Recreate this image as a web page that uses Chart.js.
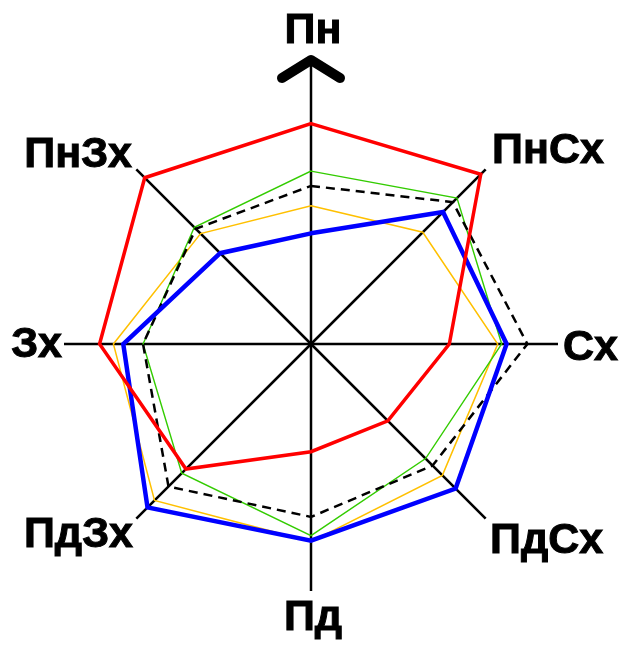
<!DOCTYPE html>
<html>
<head>
<meta charset="utf-8">
<script src="https://cdn.jsdelivr.net/npm/chart.js@4/dist/chart.umd.min.js"></script>
<style>
    html, body { margin: 0; padding: 0; background: #fff; }
    #wrap { width: 627px; height: 660px; position: relative; }
</style>
</head>
<body>
<div id="wrap"><canvas id="rose"></canvas></div>
<script>
// напрямки румбів
const directions = ["Пн", "ПнСх", "Сх", "ПдСх", "Пд", "ПдЗх", "Зх", "ПнЗх"];

// повторюваність вітрів по напрямках
const seriesRed = [22.3, 24.3, 14.0, 11.0, 10.9, 17.9, 21.4, 23.8];
const seriesBlue = [11.2, 18.9, 19.8, 20.7, 19.9, 23.4, 19.0, 13.0];
const seriesDashed = [16.0, 20.3, 21.9, 17.4, 17.5, 20.4, 17.0, 16.5];
const seriesGreen = [17.5, 20.9, 19.3, 16.4, 19.4, 18.5, 17.0, 16.7];
const seriesOrange = [14.0, 16.0, 18.9, 18.8, 20.0, 22.4, 20.0, 15.8];

const scaleMax = 25;

// where each direction label sits, relative to the centre
const labelSpots = [
    { dx: 2, dy: -301, align: "center" },
    { dx: 181, dy: -181, align: "left" },
    { dx: 252, dy: 16, align: "left" },
    { dx: 179, dy: 209, align: "left" },
    { dx: 2, dy: 286, align: "center" },
    { dx: -178, dy: 203, align: "right" },
    { dx: -249, dy: 13, align: "right" },
    { dx: -179, dy: -177, align: "right" },
];

const roseDecor = {
    id: "roseDecor",
    afterDraw(chart) {
        const scale = chart.scales.r;
        const ctx = chart.ctx;
        const cx = scale.xCenter;
        const cy = scale.yCenter;
        ctx.save();
        // north axis goes up to the arrow
        ctx.strokeStyle = "#000";
        ctx.lineWidth = 2.5;
        ctx.beginPath();
        ctx.moveTo(cx, cy - scale.drawingArea);
        ctx.lineTo(cx, cy - 284);
        ctx.stroke();
        ctx.lineWidth = 10;
        ctx.lineCap = "round";
        ctx.lineJoin = "round";
        ctx.beginPath();
        ctx.moveTo(cx - 29, cy - 266);
        ctx.lineTo(cx, cy - 284);
        ctx.lineTo(cx + 29, cy - 266);
        ctx.stroke();

        ctx.fillStyle = "#000";
        ctx.font = "bold 43px 'Liberation Sans', Arial, sans-serif";
        ctx.textBaseline = "alphabetic";
        ctx.lineWidth = 1;
        ctx.lineJoin = "miter";
        directions.forEach(function (name, i) {
            const spot = labelSpots[i];
            ctx.textAlign = spot.align;
            ctx.fillText(name, cx + spot.dx, cy + spot.dy);
            ctx.strokeText(name, cx + spot.dx, cy + spot.dy);
        });
        ctx.restore();
    }
};

const ctx = document.getElementById("rose").getContext("2d");
new Chart(ctx, {
    type: "radar",
    data: {
        labels: directions,
        datasets: [
            { data: seriesRed, borderColor: "#ff0000", borderWidth: 3.5 },
            { data: seriesBlue, borderColor: "#0000ff", borderWidth: 4.5 },
            { data: seriesDashed, borderColor: "#000000", borderWidth: 2.5, borderDash: [9, 6] },
            { data: seriesGreen, borderColor: "#33cc00", borderWidth: 1.4 },
            { data: seriesOrange, borderColor: "#ffc000", borderWidth: 1.5 },
        ]
    },
    options: {
        responsive: true,
        maintainAspectRatio: false,
        animation: false,
        layout: { padding: { left: 64, right: 69, top: 97, bottom: 69 } },
        elements: {
            line: { fill: false, tension: 0 },
            point: { radius: 0, hoverRadius: 0 }
        },
        plugins: {
            legend: { display: false },
            tooltip: { enabled: false }
        },
        scales: {
            r: {
                min: 0,
                max: scaleMax,
                ticks: { display: false },
                grid: { display: false },
                angleLines: { display: true, color: "#000", lineWidth: 2.5 },
                pointLabels: { display: false }
            }
        }
    },
    plugins: [roseDecor]
});
</script>
</body>
</html>
